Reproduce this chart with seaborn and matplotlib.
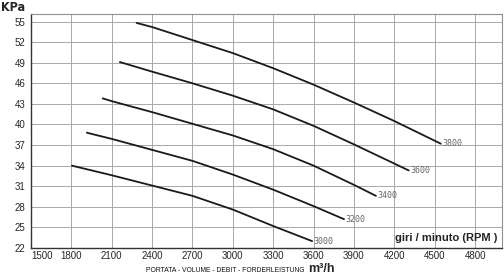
import matplotlib
matplotlib.use("Agg")
import matplotlib.pyplot as plt
import seaborn as sns
import pandas as pd

rpm_labels = ["3000", "3200", "3400", "3600", "3800"]

flow_3000 = [1804, 2100, 2400, 2700, 3000, 3300, 3589]
kpa_3000 = [34.0, 32.6, 31.1, 29.6, 27.6, 25.2, 23.0]

flow_3200 = [1915, 2100, 2400, 2700, 3000, 3300, 3600, 3826]
kpa_3200 = [38.8, 37.9, 36.3, 34.7, 32.7, 30.5, 28.1, 26.2]

flow_3400 = [2033, 2100, 2400, 2700, 3000, 3300, 3600, 3900, 4063]
kpa_3400 = [43.8, 43.4, 41.8, 40.1, 38.4, 36.4, 34.0, 31.2, 29.6]

flow_3600 = [2160, 2400, 2700, 3000, 3300, 3600, 3900, 4200, 4307]
kpa_3600 = [49.1, 47.7, 46.0, 44.2, 42.2, 39.8, 37.1, 34.3, 33.3]

flow_3800 = [2285, 2400, 2700, 3000, 3300, 3600, 3900, 4200, 4545]
kpa_3800 = [54.8, 54.2, 52.3, 50.4, 48.2, 45.8, 43.2, 40.5, 37.2]

x_ticks = [1500, 1800, 2100, 2400, 2700, 3000, 3300, 3600, 3900, 4200, 4500, 4800]
y_ticks = [22, 25, 28, 31, 34, 37, 40, 43, 46, 49, 52, 55]

flows = [flow_3000, flow_3200, flow_3400, flow_3600, flow_3800]
kpas = [kpa_3000, kpa_3200, kpa_3400, kpa_3600, kpa_3800]

rows = []
for lab, fx, ky in zip(rpm_labels, flows, kpas):
    for a, b in zip(fx, ky):
        rows.append({"flow": a, "kpa": b, "rpm": lab})
df = pd.DataFrame(rows)

sns.set_style("white")
plt.rcParams["font.family"] = ["Liberation Sans", "DejaVu Sans"]

fig = plt.figure(figsize=(5.04, 2.8), dpi=100)
ax = fig.add_axes([31 / 504, 1 - 248 / 280, 471 / 504, 234 / 280])

sns.lineplot(data=df, x="flow", y="kpa", hue="rpm", units="rpm", estimator=None,
             palette=["#1a1a1a"] * 5, linewidth=1.3, sort=False, legend=False, ax=ax)

ax.set_xlim(1500, 5000)
ax.set_ylim(22, 56.1)
ax.set_xticks(x_ticks)
ax.set_yticks(y_ticks)
ax.set_xticklabels([str(v) for v in x_ticks], fontsize=7)
ax.set_yticklabels([str(v) for v in y_ticks], fontsize=7)
ax.get_xticklabels()[0].set_horizontalalignment("left")
ax.tick_params(axis="x", length=0, pad=2)
ax.tick_params(axis="y", length=0, pad=4)
ax.grid(True, color="#a8a8a8", linewidth=0.7)
ax.set_axisbelow(True)
for side in ["top", "right"]:
    ax.spines[side].set_color("#909090")
    ax.spines[side].set_linewidth(0.8)
for side in ["left", "bottom"]:
    ax.spines[side].set_color("#333333")
    ax.spines[side].set_linewidth(1.0)
ax.set_xlabel("")
ax.set_ylabel("")

for lab, fx, ky in zip(rpm_labels, flows, kpas):
    ax.text(fx[-1] + 10, ky[-1], lab, fontsize=6, color="#666666",
            family="DejaVu Sans Mono", ha="left", va="center")

ax.text(0.99, 0.02, "giri / minuto (RPM )", transform=ax.transAxes, fontsize=8,
        fontweight="bold", color="#222222", ha="right", va="bottom")

fig.text(1 / 504, 1 - 1 / 280, "KPa", fontsize=9, fontweight="bold", ha="left", va="top",
         family="DejaVu Sans", fontstretch="condensed")
fig.text(146 / 504, 1 - 271 / 280, "PORTATA - VOLUME - DEBIT - FORDERLEISTUNG", fontsize=4.9,
         ha="left", va="center", color="#111111")
fig.text(308 / 504, 1 - 269 / 280, "m³/h", fontsize=9, fontweight="bold",
         ha="left", va="center")

fig.savefig("out.png", dpi=100)
